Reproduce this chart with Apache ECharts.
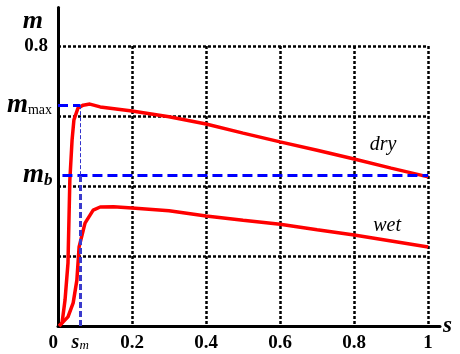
<!DOCTYPE html>
<html>
<head>
<meta charset="utf-8">
<script src="https://cdn.jsdelivr.net/npm/echarts@6/dist/echarts.min.js"></script>
<style>
  html, body { margin: 0; padding: 0; background: #fff; }
  #chart { width: 460px; height: 354px; }
</style>
</head>
<body>
<div id="chart"></div>
<script>
// slip ratio s vs. adhesion coefficient m
const drySlip = [0.003, 0.011, 0.019, 0.027, 0.032, 0.038, 0.043, 0.054, 0.068, 0.086, 0.114, 0.2, 0.3, 0.4, 0.5, 0.6, 0.7, 0.8, 0.9, 1.0]
const dryMu = [0, 0.009, 0.074, 0.18, 0.417, 0.531, 0.589, 0.623, 0.631, 0.634, 0.626, 0.614, 0.598, 0.577, 0.551, 0.526, 0.502, 0.477, 0.451, 0.426]
const wetSlip = [0.003, 0.027, 0.041, 0.051, 0.057, 0.065, 0.073, 0.095, 0.114, 0.15, 0.2, 0.3, 0.4, 0.5, 0.6, 0.7, 0.8, 0.9, 1.0]
const wetMu = [0, 0.026, 0.066, 0.131, 0.226, 0.26, 0.294, 0.331, 0.34, 0.341, 0.337, 0.329, 0.314, 0.302, 0.291, 0.275, 0.26, 0.243, 0.226]
const muMax = 0.631
const muB = 0.431
const sM = 0.06
const yTickLabels = ['0.8']

const serif = 'Liberation Serif'
const zip = (xs, ys) => xs.map((x, i) => [x, ys[i]])

const chart = echarts.init(document.getElementById('chart'))

const gridLine = { show: true, lineStyle: { color: '#000', width: 2.5, type: [3, 2] } }
const blueDash = { color: '#0000ff', width: 3, type: [10, 5] }

chart.setOption({
  animation: false,
  grid: [
    { left: 58, right: 20, top: 7.5, bottom: 28 },
    { left: 58, right: 32, top: 46, bottom: 28 }
  ],
  xAxis: [
    {
      gridIndex: 0, type: 'value', min: 0, max: 1.032,
      axisLine: { lineStyle: { color: '#000', width: 3 } },
      axisTick: { show: false }, axisLabel: { show: false }, splitLine: { show: false },
      name: 's', nameLocation: 'end', nameGap: 3,
      nameTextStyle: {
        fontFamily: serif, fontSize: 23, fontWeight: 'bold', fontStyle: 'italic', color: '#000',
        align: 'left', verticalAlign: 'middle', padding: [0, 0, 16, 0]
      }
    },
    {
      gridIndex: 1, type: 'value', min: 0, max: 1, interval: 0.2,
      axisLine: { show: false }, axisTick: { show: false },
      axisLabel: {
        fontFamily: serif, fontSize: 19, fontWeight: 'bold', color: '#000', margin: 8,
        alignMinLabel: 'right'
      },
      splitLine: gridLine
    }
  ],
  yAxis: [
    {
      gridIndex: 0, type: 'value', min: 0, max: 0.91,
      axisLine: { show: true, lineStyle: { color: '#000', width: 3 } },
      axisTick: { show: false }, axisLabel: { show: false }, splitLine: { show: false },
      name: 'm', nameLocation: 'end', nameGap: -14,
      nameTextStyle: {
        fontFamily: serif, fontSize: 26, fontWeight: 'bold', fontStyle: 'italic', color: '#000',
        align: 'right', verticalAlign: 'middle', padding: [0, 15, 0, 0]
      }
    },
    {
      gridIndex: 1, type: 'value', min: 0, max: 0.8, interval: 0.2,
      axisLine: { show: false }, axisTick: { show: false },
      axisLabel: {
        fontFamily: serif, fontSize: 19, fontWeight: 'bold', color: '#000', margin: 10,
        formatter: v => yTickLabels.includes(v.toFixed(1)) ? v.toFixed(1) : ''
      },
      splitLine: gridLine
    }
  ],
  series: [
    {
      name: 'dry', type: 'line', xAxisIndex: 0, yAxisIndex: 0,
      data: zip(drySlip, dryMu), showSymbol: false, z: 4,
      lineStyle: { color: '#ff0000', width: 3.5 },
      markPoint: {
        symbol: 'circle', symbolSize: 1, itemStyle: { color: 'transparent' },
        label: { show: true, position: 'inside', formatter: 'dry', fontFamily: serif, fontSize: 20, fontStyle: 'italic', color: '#000' },
        data: [{ coord: [0.878, 0.517] }]
      }
    },
    {
      name: 'wet', type: 'line', xAxisIndex: 0, yAxisIndex: 0,
      data: zip(wetSlip, wetMu), showSymbol: false, z: 4,
      lineStyle: { color: '#ff0000', width: 3.5 },
      markPoint: {
        symbol: 'circle', symbolSize: 1, itemStyle: { color: 'transparent' },
        label: { show: true, position: 'inside', formatter: 'wet', fontFamily: serif, fontSize: 20, fontStyle: 'italic', color: '#000' },
        data: [{ coord: [0.889, 0.286] }]
      }
    },
    {
      name: 'ref', type: 'line', xAxisIndex: 0, yAxisIndex: 0, data: [], z: 3,
      markLine: {
        silent: true, symbol: 'none', animation: false,
        label: {
          show: true, position: 'start', distance: 6, color: '#000',
          rich: {
            m: { fontFamily: serif, fontSize: 27, fontWeight: 'bold', fontStyle: 'italic', color: '#000' },
            sub: { fontFamily: serif, fontSize: 14, color: '#000', padding: [10, 0, 0, 0] },
            subi: { fontFamily: serif, fontSize: 17, fontStyle: 'italic', fontWeight: 'bold', color: '#000', padding: [10, 0, 0, 0] },
            s: { fontFamily: serif, fontSize: 20, fontStyle: 'italic', fontWeight: 'bold', color: '#000' },
            si: { fontFamily: serif, fontSize: 13, fontStyle: 'italic', color: '#000', padding: [6, 0, 0, 0] }
          }
        },
        data: [
          [{ coord: [0, muMax], label: { formatter: '{m|m}{sub|max}' }, lineStyle: blueDash },
           { coord: [sM, muMax] }],
          [{ coord: [0.012, muB], label: { formatter: '{m|m}{subi|b}', distance: 10 }, lineStyle: blueDash },
           { coord: [1, muB] }],
          [{ coord: [sM, muB], label: { show: false }, lineStyle: { color: '#3333cc', width: 1, type: [4, 2] } },
           { coord: [sM, muMax] }],
          [{ coord: [sM, 0], label: { formatter: '{s|s}{si|m}', distance: 7 }, lineStyle: { color: '#3a3acc', width: 3, type: [6, 3] } },
           { coord: [sM, muB] }]
        ]
      }
    }
  ]
})
</script>
</body>
</html>
